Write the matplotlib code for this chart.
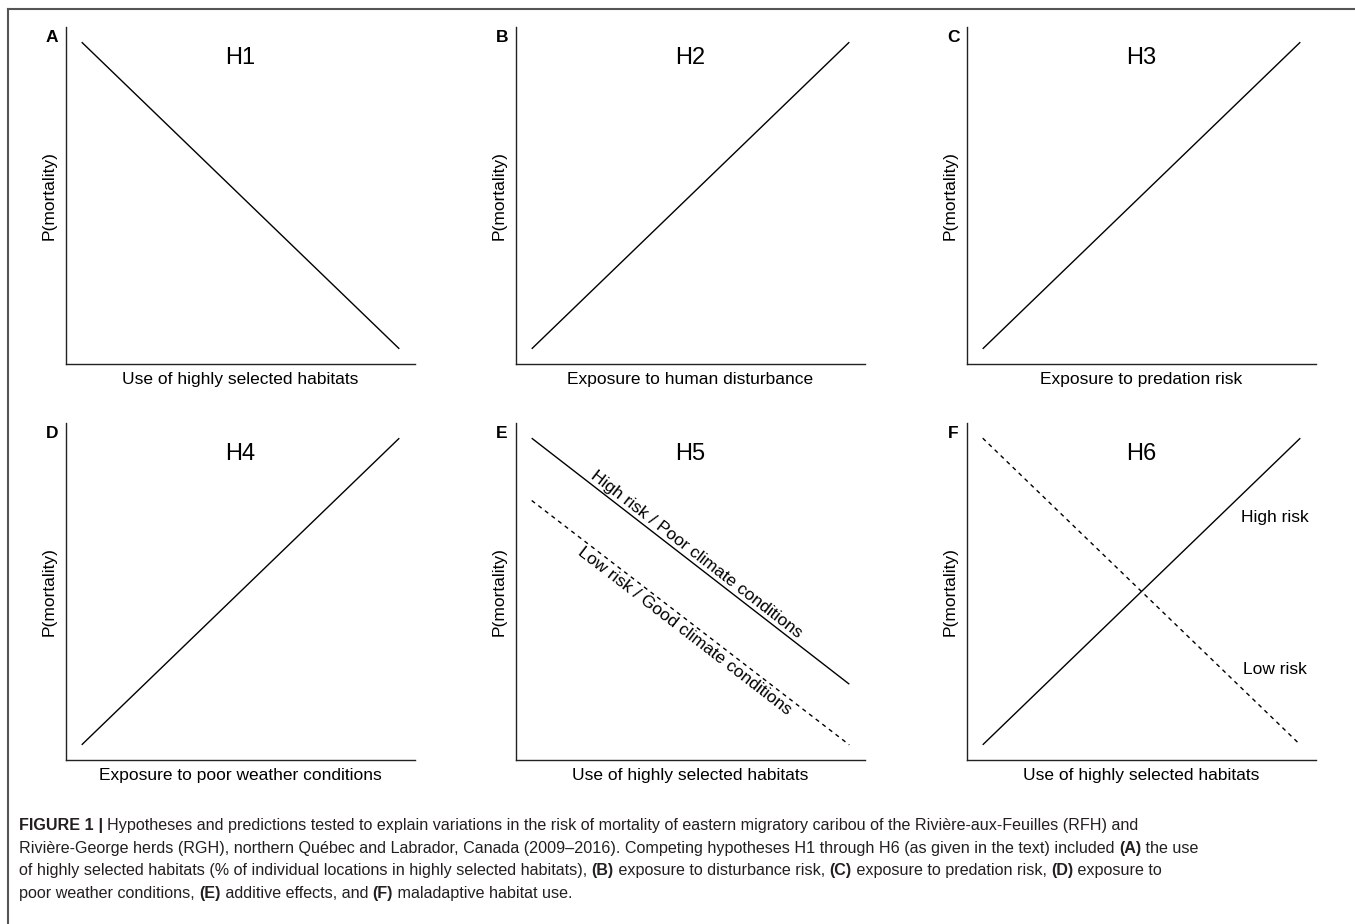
import numpy as np
import matplotlib
matplotlib.use('Agg')
from matplotlib import pyplot as plt
from matplotlib.lines import Line2D
from matplotlib.transforms import offset_copy

plt.rcParams['font.family'] = ['Liberation Sans', 'DejaVu Sans']

W, H = 1355, 924

# panel data (x from 0 to 1, y = P(mortality))
letters = ['A', 'B', 'C', 'D', 'E', 'F']
titles = ['H1', 'H2', 'H3', 'H4', 'H5', 'H6']
xlabels = ['Use of highly selected habitats', 'Exposure to human disturbance',
           'Exposure to predation risk', 'Exposure to poor weather conditions',
           'Use of highly selected habitats', 'Use of highly selected habitats']
x_ends = [0.045, 0.955]
solid_y = [[0.955, 0.045], [0.045, 0.955], [0.045, 0.955],
           [0.045, 0.955], [0.955, 0.225], [0.045, 0.955]]
dashed_y = {4: [0.77, 0.045], 5: [0.955, 0.045]}
e_labels = ['High risk / Poor climate conditions', 'Low risk / Good climate conditions']
f_labels = ['High risk', 'Low risk']
f_label_y = [0.721, 0.27]

caption = [
    [('FIGURE 1', True), (' | ', True), ('Hypotheses and predictions tested to explain variations in the risk of mortality of eastern migratory caribou of the Rivière-aux-Feuilles (RFH) and', False)],
    [('Rivière-George herds (RGH), northern Québec and Labrador, Canada (2009–2016). Competing hypotheses H1 through H6 (as given in the text) included ', False), ('(A)', True), (' the use', False)],
    [('of highly selected habitats (% of individual locations in highly selected habitats), ', False), ('(B)', True), (' exposure to disturbance risk, ', False), ('(C)', True), (' exposure to predation risk, ', False), ('(D)', True), (' exposure to', False)],
    [('poor weather conditions, ', False), ('(E)', True), (' additive effects, and ', False), ('(F)', True), (' maladaptive habitat use.', False)],
]

fig = plt.figure(figsize=(W / 100, H / 100), dpi=100)

# outer frame (only top and left visible)
fig.add_artist(Line2D([8 / W, 1], [1 - 9 / H, 1 - 9 / H], color='#555555', lw=1.5))
fig.add_artist(Line2D([8 / W, 8 / W], [1 - 9 / H, 0], color='#555555', lw=1.5))

col_left = [66, 516, 967]
col_w = 349
row_top = [27, 423]
row_h = 337

axes = []
for i in range(6):
    r, c = divmod(i, 3)
    left = col_left[c] / W
    bottom = 1 - (row_top[r] + row_h) / H
    ax = fig.add_axes([left, bottom, col_w / W, row_h / H])
    ax.set_xlim(0, 1)
    ax.set_ylim(0, 1)
    ax.set_xticks([])
    ax.set_yticks([])
    for s in ['top', 'right']:
        ax.spines[s].set_visible(False)
    for s in ['left', 'bottom']:
        ax.spines[s].set_linewidth(1.0)
        ax.spines[s].set_color('#222222')
    ax.plot(x_ends, solid_y[i], color='black', lw=1.0, solid_capstyle='butt')
    if i in dashed_y:
        ax.plot(x_ends, dashed_y[i], color='black', lw=1.0, ls=(0, (3, 3)))
    ax.text(-0.04, 0.97, letters[i], transform=ax.transAxes, ha='center', va='center',
            fontsize=12.5, fontweight='bold')
    ax.text(0.5, 0.908, titles[i], transform=ax.transAxes, ha='center', va='center', fontsize=17)
    ax.text(0.5, -0.045, xlabels[i], transform=ax.transAxes, ha='center', va='center', fontsize=12.5)
    ax.text(-0.049, 0.5, 'P(mortality)', transform=ax.transAxes, ha='center', va='center',
            rotation=90, fontsize=12.5)
    axes.append(ax)

# rotated labels in panel E
ax = axes[4]
for ys, lab, va, off in [(solid_y[4], e_labels[0], 'bottom', 1.0),
                         (dashed_y[4], e_labels[1], 'top', -2.0)]:
    p0 = ax.transData.transform((x_ends[0], ys[0]))
    p1 = ax.transData.transform((x_ends[1], ys[1]))
    a = np.arctan2(p1[1] - p0[1], p1[0] - p0[0])
    # shift perpendicular to the line (points)
    tr = offset_copy(ax.transData, fig=fig, x=-np.sin(a) * off, y=np.cos(a) * off, units='points')
    ym = np.interp(0.5, x_ends, ys)
    ax.text(0.5, ym, lab, ha='center', va=va, rotation=np.degrees(a), rotation_mode='anchor',
            fontsize=12.5, transform=tr)

# labels in panel F
ax = axes[5]
for lab, y in zip(f_labels, f_label_y):
    ax.text(0.882, y, lab, ha='center', va='center', fontsize=12.5)

# caption with mixed bold, pieces laid out on a common baseline
renderer = fig.canvas.get_renderer()
line_y = [830, 853, 875, 898]
for parts, yy in zip(caption, line_y):
    x = 19
    for txt, bold in parts:
        t = fig.text(x / W, 1 - yy / H, txt, ha='left', va='baseline', fontsize=11.6,
                     color='#231f20', fontweight='bold' if bold else 'normal')
        x += t.get_window_extent(renderer).width

fig.savefig('out.png', dpi=100)
